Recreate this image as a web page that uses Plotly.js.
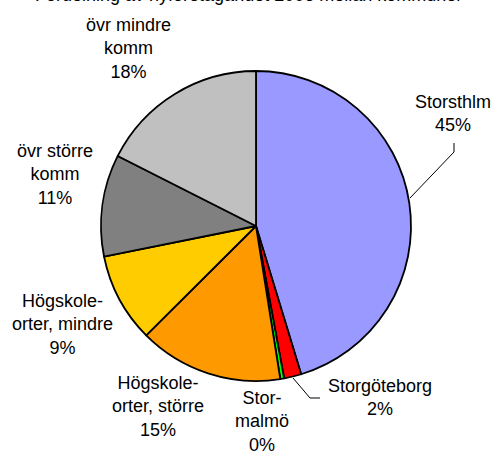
<!DOCTYPE html>
<html>
<head>
<meta charset="utf-8">
<script src="https://cdn.plot.ly/plotly-3.0.1.min.js"></script>
<style>html,body{margin:0;padding:0;background:#fff;}#chart{width:496px;height:454px;}</style>
</head>
<body>
<div id="chart"></div>
<script>
// Data
var categories = ["Storsthlm", "Storgöteborg", "Stor-malmö", "Högskole-orter, större", "Högskole-orter, mindre", "övr större komm", "övr mindre komm"];
var labelLines = [["Storsthlm"], ["Storgöteborg"], ["Stor-", "malmö"], ["Högskole-", "orter, större"], ["Högskole-", "orter, mindre"], ["övr större", "komm"], ["övr mindre", "komm"]];
var shares = [45.2, 1.8, 0.4, 15.0, 9.3, 10.6, 17.5];
var sliceColors = ["#9999FF", "#FF0000", "#00FF00", "#FF9900", "#FFCC00", "#808080", "#C0C0C0"];
var titleText = "Fördelning av nyföretagandet 2006 mellan kommuner";

var W = 496, H = 454;
function px(x) { return x / W; }
function py(y) { return (H - y) / H; }

// label block centres (pixels, first line)
var labelPos = [[453, 102], [380, 385], [262, 397], [158, 382], [62, 300], [55, 150], [128, 25]];
var lineGap = 24;

var annotations = [];
for (var i = 0; i < categories.length; i++) {
  var lines = labelLines[i].concat([Math.round(shares[i]) + "%"]);
  var nLines = lines.length;
  var cy = labelPos[i][1] + (nLines - 1) * lineGap / 2;
  annotations.push({
    text: lines.join("<br>"),
    x: px(labelPos[i][0]), y: py(cy), xref: "paper", yref: "paper",
    xanchor: "center", yanchor: "middle", showarrow: false, align: "center",
    font: {family: "Liberation Sans, Arial, sans-serif", size: 18, color: "#000"}
  });
}
annotations.push({
  text: titleText, x: 0.5, y: py(-5), xref: "paper", yref: "paper",
  xanchor: "center", yanchor: "middle", showarrow: false,
  font: {family: "Liberation Sans, Arial, sans-serif", size: 18, color: "#000"}
});

var shapes = [
  {type: "path", xref: "paper", yref: "paper",
   path: "M" + px(454) + "," + py(143) + " L" + px(454) + "," + py(152) + " L" + px(410) + "," + py(198),
   line: {color: "#000", width: 1}},
  {type: "path", xref: "paper", yref: "paper",
   path: "M" + px(320) + "," + py(398) + " L" + px(310) + "," + py(398) + " L" + px(293) + "," + py(378),
   line: {color: "#000", width: 1}}
];

var cx = 256, cyc = 226, r = 155;
var data = [{
  type: "pie",
  labels: categories,
  values: shares,
  sort: false,
  direction: "clockwise",
  rotation: 0,
  marker: {colors: sliceColors, line: {color: "#000", width: 1.8}},
  textinfo: "none",
  hoverinfo: "label+percent",
  domain: {x: [px(cx - r), px(cx + r)], y: [py(cyc + r), py(cyc - r)]},
  showlegend: false
}];

var layout = {
  width: W, height: H,
  margin: {l: 0, r: 0, t: 0, b: 0},
  paper_bgcolor: "#fff",
  annotations: annotations,
  shapes: shapes,
  showlegend: false
};
Plotly.newPlot("chart", data, layout, {staticPlot: true});
</script>
</body>
</html>
